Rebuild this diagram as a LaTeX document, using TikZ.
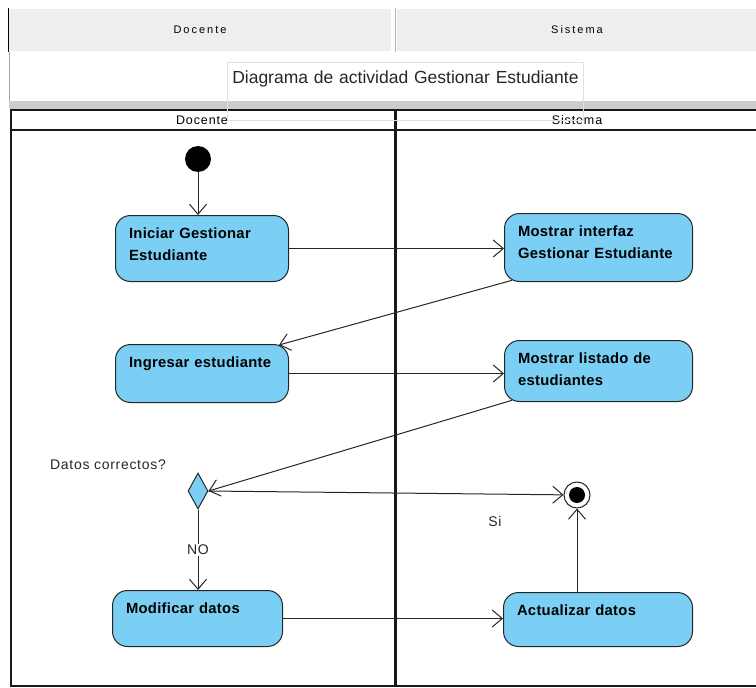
\documentclass[tikz,border=0pt]{standalone}
\usepackage{fontspec}
\setmainfont{Liberation Sans}
\newfontfamily\hdrfont[LetterSpace = 18]{Liberation Sans}
\newfontfamily\lanefont[LetterSpace = 7]{Liberation Sans}
\newfontfamily\lblfont[LetterSpace = 5]{Liberation Sans}
\newfontfamily\actfont[LetterSpace = 2]{Liberation Sans}
\usetikzlibrary{arrows.meta,shapes.geometric}
\definecolor{actblue}{HTML}{7BCFF4}
\definecolor{hdrgray}{HTML}{EEEEEE}
\begin{document}
\begin{tikzpicture}[x = 1pt, y = -1pt,
  act/.style = {draw = black!85, fill = actblue, line width = 1pt, rounded corners = 15pt, anchor = north west, align = left, inner xsep = 13.5pt, inner ysep = 5pt, text height = 18pt, font = \actfont\bfseries\fontsize{14.8}{22}\selectfont},
  flow/.style = {draw = black!85, line width = 1pt, -{Straight Barb[length = 10pt, width = 17pt, line width = 1pt]}},
  lbl/.style = {font = \lblfont\fontsize{14}{16}\selectfont, text = black!85, inner sep = 1pt},
  hcell/.style = {draw = black!30, double = white, double distance = 1pt, fill = hdrgray, inner sep = 0pt, font = \hdrfont\fontsize{11}{13}\selectfont},
  lane/.style = {font = \lanefont\fontsize{12.5}{14}\selectfont, inner sep = 0pt}]
\useasboundingbox (0,0) rectangle (756,688);
\clip (0,0) rectangle (756,688);
\node[hcell, minimum width = 383pt, minimum height = 43pt] (hdoc) at (200,30) {Docente};
\node[hcell, minimum width = 362pt, minimum height = 43pt] (hsis) at (577,30) {Sistema};
\draw[line width = 1.5pt, black] (8.5,8) -- (8.5,52);
\draw[line width = 1pt, black!35] (9,52) -- (9,109);
\fill[black!20] (9,101) rectangle (756,109);
\draw[line width = 2.5pt, black!90] (11,110) rectangle (770,686);
\draw[line width = 2pt, black!90] (11,130) -- (770,130);
\draw[line width = 3pt, black!90] (395,110) -- (395,686);
\node[lane] (ldoc) at (202,120) {Docente};
\node[lane] (lsis) at (577,120) {Sistema};
\node[draw = black!12, line width = 0.8pt, anchor = north west, inner xsep = 0pt, inner ysep = 4pt, text width = 356pt, align = center, text height = 17pt, text depth = 33pt, font = \fontsize{17.5}{20}\selectfont, text = black!85] (title) at (227,62) {Diagrama de actividad Gestionar Estudiante};
\node[circle, fill = black, minimum size = 26pt, inner sep = 0pt] (start) at (198,159) {};
\node[act, text width = 146pt, text depth = 38pt] (ini) at (115,215) {Iniciar Gestionar\\Estudiante};
\node[act, text width = 161pt, text depth = 40pt] (mint) at (504,213) {Mostrar interfaz\\Gestionar Estudiante};
\node[act, text width = 146pt, text depth = 30pt] (ing) at (115,344) {Ingresar estudiante};
\node[act, text width = 161pt, text depth = 33pt] (mlist) at (504,340) {Mostrar listado de\\estudiantes};
\node[diamond, draw = black!85, fill = actblue, line width = 1pt, minimum width = 20pt, minimum height = 36pt, inner sep = 0pt] (dec) at (198,491) {};
\node[circle, draw = black!85, line width = 1pt, fill = white, minimum size = 26pt, inner sep = 0pt, path picture = {\fill[black] (path picture bounding box.center) circle (8pt);}] (fin) at (577,495) {};
\node[act, text width = 143pt, text depth = 28pt] (mod) at (112,590) {Modificar datos};
\node[act, text width = 162pt, text depth = 26pt] (actz) at (503,592) {Actualizar datos};
\node[lbl] (qdatos) at (108,465) {Datos correctos?};
\node[lbl] (si) at (495,521) {Si};
\draw[flow] (start) -- (start |- ini.north);
\draw[flow] (ini.east) -- (ini.east -| mint.west);
\draw[flow] ([xshift = 8pt, yshift = 1.7pt]mint.south west) -- ([xshift = -10pt, yshift = -1pt]ing.north east);
\draw[flow] (ing.east) -- (ing.east -| mlist.west);
\draw[flow] ([xshift = 8pt, yshift = 1.7pt]mlist.south west) -- (dec.east);
\draw[flow] (dec.east) -- (fin);
\draw[flow] (dec.south) -- (dec.south |- mod.north) node[lbl, pos = 0.5, fill = white] (no) {NO};
\draw[flow] (mod.east) -- (mod.east -| actz.west);
\draw[flow] (fin |- actz.north) -- (fin);
\end{tikzpicture}
\end{document}
